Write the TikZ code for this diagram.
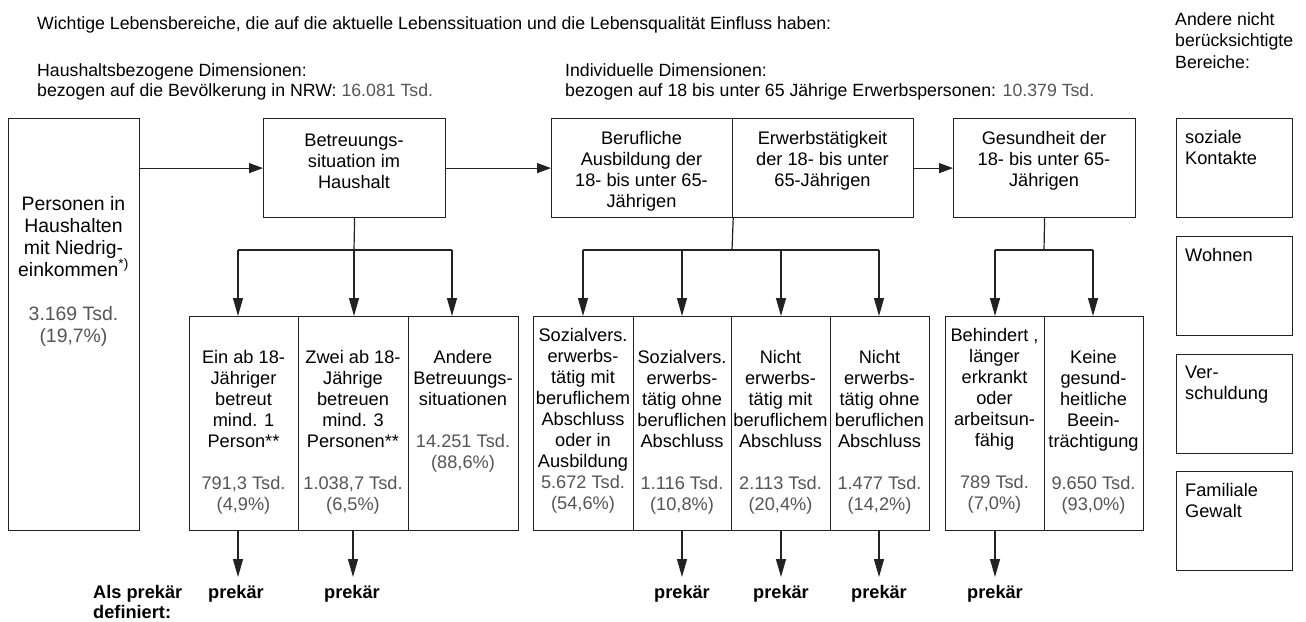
\documentclass[tikz,border=0pt]{standalone}
\usepackage{fontspec}
\setmainfont{Liberation Sans}
\usetikzlibrary{arrows.meta}
\definecolor{numgray}{HTML}{555555}
\definecolor{linegray}{HTML}{222222}
\newcommand\mainfs{\fontsize{18.2}{21}\selectfont}
\newcommand\leftfs{\fontsize{19.4}{22}\selectfont}
\newcommand\hdrfs{\fontsize{17.7}{20.5}\selectfont}
\newcommand\gr[1]{\textcolor{numgray}{#1}}
\begin{document}
\begin{tikzpicture}[x=1pt,y=-1pt,
  box/.style={draw=linegray,line width=1.2pt,inner sep=0pt,anchor=north west},
  txt/.style={font=\mainfs,align=center,inner sep=0pt,anchor=north},
  ltxt/.style={font=\mainfs,align=left,inner sep=0pt,anchor=north west},
  hdr/.style={font=\hdrfs,align=left,inner sep=0pt,anchor=north west},
  pk/.style={font=\mainfs\bfseries,inner sep=0pt,anchor=north},
  conn/.style={draw=linegray,line width=1.2pt},
  harrow/.style={conn,-{Triangle[length=14pt,width=10pt]}},
  varrow/.style={conn,-{Triangle[length=18pt,width=10pt]}}]
\useasboundingbox[fill=white] (0,0) rectangle (1306,621);

% headers
\node[hdr] (title) at (37,16) {Wichtige Lebensbereiche, die auf die aktuelle Lebenssituation und die Lebensqualität Einfluss haben:};
\node[hdr] (hh) at (37,63) {Haushaltsbezogene Dimensionen:\\bezogen auf die Bevölkerung in NRW: \gr{16.081 Tsd.}};
\node[hdr] (ind) at (565,63) {Individuelle Dimensionen:\\bezogen auf 18 bis unter 65 Jährige Erwerbspersonen: \gr{10.379 Tsd.}};
\node[hdr,font=\fontsize{17.7}{21.5}\selectfont] (andere) at (1175,12) {Andere nicht\\berücksichtigte\\Bereiche:};

% top row boxes
\node[box,minimum width=131pt,minimum height=412pt] (L) at (8,118) {};
\node[box,minimum width=182pt,minimum height=99pt] (B) at (263,118) {};
\node[box,minimum width=181pt,minimum height=99pt] (BA) at (551,118) {};
\node[box,minimum width=181pt,minimum height=99pt] (EW) at (732,118) {};
\node[box,minimum width=182pt,minimum height=99pt] (G) at (953,118) {};

% right boxes
\node[box,minimum width=116pt,minimum height=99pt] (R1) at (1176,118) {};
\node[box,minimum width=116pt,minimum height=99pt] (R2) at (1176,236) {};
\node[box,minimum width=116pt,minimum height=99pt] (R3) at (1176,354) {};
\node[box,minimum width=116pt,minimum height=99pt] (R4) at (1176,471) {};

% bottom boxes
\node[box,minimum width=109pt,minimum height=214pt] (g1) at (189,316) {};
\node[box,minimum width=110pt,minimum height=214pt] (g2) at (298,316) {};
\node[box,minimum width=110pt,minimum height=214pt] (g3) at (408,316) {};
\node[box,minimum width=100pt,minimum height=214pt] (s1) at (533,316) {};
\node[box,minimum width=98pt,minimum height=214pt] (s2) at (633,316) {};
\node[box,minimum width=99pt,minimum height=214pt] (s3) at (731,316) {};
\node[box,minimum width=99pt,minimum height=214pt] (s4) at (830,316) {};
\node[box,minimum width=99pt,minimum height=214pt] (h1) at (945,316) {};
\node[box,minimum width=99pt,minimum height=214pt] (h2) at (1044,316) {};

% texts in boxes
\node[txt,font=\leftfs] (tL) at (73.5,196) {Personen in\\Haushalten\\mit Niedrig-\\einkommen\textsuperscript{*)}\\[22pt]\gr{3.169 Tsd.}\\\gr{(19,7\%)}};
\node[txt] (tB) at (354,134) {Betreuungs-\\situation im\\Haushalt};
\node[txt] (tBA) at (641.5,131) {Berufliche\\Ausbildung der\\18- bis unter 65-\\Jährigen};
\node[txt] (tEW) at (822.5,131) {Erwerbstätigkeit\\der 18- bis unter\\65-Jährigen};
\node[txt] (tG) at (1044,131) {Gesundheit der\\18- bis unter 65-\\Jährigen};

\node[ltxt] (tR1) at (1185,130) {soziale\\Kontakte};
\node[ltxt] (tR2) at (1185,248) {Wohnen};
\node[ltxt] (tR3) at (1185,366) {Ver-\\schuldung};
\node[ltxt] (tR4) at (1185,483) {Familiale\\Gewalt};

\node[txt] (tg1) at (243.5,350) {Ein ab 18-\\Jähriger\\betreut\\mind. 1\\Person**\\[21pt]\gr{791,3 Tsd.}\\\gr{(4,9\%)}};
\node[txt] (tg2) at (353,350) {Zwei ab 18-\\Jährige\\betreuen\\mind. 3\\Personen**\\[21pt]\gr{1.038,7 Tsd.}\\\gr{(6,5\%)}};
\node[txt] (tg3) at (463,350) {Andere\\Betreuungs-\\situationen\\[21pt]\gr{14.251 Tsd.}\\\gr{(88,6\%)}};
\node[txt] (ts1) at (583,328) {Sozialvers.\\erwerbs-\\tätig mit\\beruflichem\\Abschluss\\oder in\\Ausbildung\\\gr{5.672 Tsd.}\\\gr{(54,6\%)}};
\node[txt] (ts2) at (682,350) {Sozialvers.\\erwerbs-\\tätig ohne\\beruflichen\\Abschluss\\[21pt]\gr{1.116 Tsd.}\\\gr{(10,8\%)}};
\node[txt] (ts3) at (780.5,350) {Nicht\\erwerbs-\\tätig mit\\beruflichem\\Abschluss\\[21pt]\gr{2.113 Tsd.}\\\gr{(20,4\%)}};
\node[txt] (ts4) at (879.5,350) {Nicht\\erwerbs-\\tätig ohne\\beruflichen\\Abschluss\\[21pt]\gr{1.477 Tsd.}\\\gr{(14,2\%)}};
\node[txt] (th1) at (994.5,328) {Behindert ,\\länger\\erkrankt\\oder\\arbeitsun-\\fähig\\[21pt]\gr{789 Tsd.}\\\gr{(7,0\%)}};
\node[txt] (th2) at (1093.5,350) {Keine\\gesund-\\heitliche\\Beein-\\trächtigung\\[21pt]\gr{9.650 Tsd.}\\\gr{(93,0\%)}};

% horizontal arrows
\draw[harrow] (L.east |- B.west) -- (B.west);
\draw[harrow] (B.east) -- (BA.west);
\draw[harrow] (EW.east) -- (G.west);

% branching: Betreuung
\coordinate (jB) at (354,250);
\coordinate (a1) at (238,250);
\coordinate (a2) at (354,250);
\coordinate (a3) at (452,250);
\draw[conn] (B.south) -- (jB);
\draw[conn] (a1) -- (a3);
\draw[varrow] (a1) -- (a1 |- g1.north);
\draw[varrow] (a2) -- (a2 |- g2.north);
\draw[varrow] (a3) -- (a3 |- g3.north);

% branching: Ausbildung / Erwerb
\coordinate (jE) at (732,250);
\coordinate (b1) at (583,250);
\coordinate (b2) at (682,250);
\coordinate (b3) at (781,250);
\coordinate (b4) at (879,250);
\draw[conn] (BA.south east) -- (jE);
\draw[conn] (b1) -- (b4);
\draw[varrow] (b1) -- (b1 |- s1.north);
\draw[varrow] (b2) -- (b2 |- s2.north);
\draw[varrow] (b3) -- (b3 |- s3.north);
\draw[varrow] (b4) -- (b4 |- s4.north);

% branching: Gesundheit
\coordinate (jG) at (1044,250);
\coordinate (c1) at (995,250);
\coordinate (c2) at (1093,250);
\draw[conn] (G.south) -- (jG);
\draw[conn] (c1) -- (c2);
\draw[varrow] (c1) -- (c1 |- h1.north);
\draw[varrow] (c2) -- (c2 |- h2.north);

% prekaer arrows
\coordinate (p1) at (238,577);
\coordinate (p2) at (353,577);
\coordinate (p3) at (682,577);
\coordinate (p4) at (781,577);
\coordinate (p5) at (879,577);
\coordinate (p6) at (995,577);
\draw[varrow] (p1 |- g1.south) -- (p1);
\draw[varrow] (p2 |- g2.south) -- (p2);
\draw[varrow] (p3 |- s2.south) -- (p3);
\draw[varrow] (p4 |- s3.south) -- (p4);
\draw[varrow] (p5 |- s4.south) -- (p5);
\draw[varrow] (p6 |- h1.south) -- (p6);

\node[pk] (k1) at (236,585) {prekär};
\node[pk] (k2) at (352,585) {prekär};
\node[pk] (k3) at (682,585) {prekär};
\node[pk] (k4) at (781,585) {prekär};
\node[pk] (k5) at (879,585) {prekär};
\node[pk] (k6) at (995,585) {prekär};
\node[pk,anchor=north west,align=left,font=\fontsize{18.2}{20.5}\selectfont\bfseries] (als) at (93,585) {Als prekär\\definiert:};
\end{tikzpicture}
\end{document}
